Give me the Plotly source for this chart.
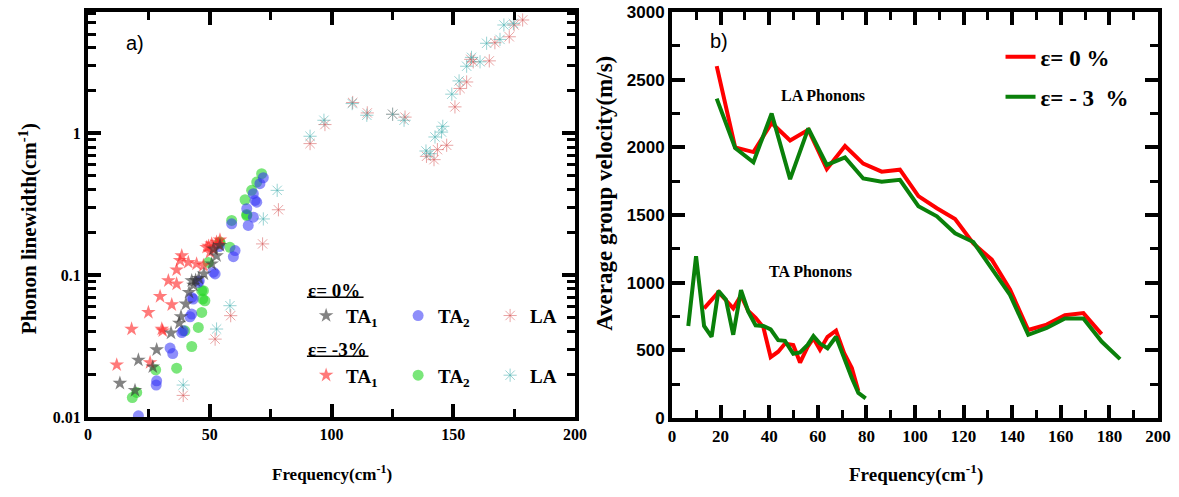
import plotly.graph_objects as go

# ---------------- Panel a) data (frequency cm^-1, linewidth cm^-1) ----------------
ta1_0_f = [13.1, 19.3, 20.7, 26.6, 28.2, 34.1, 37.5, 38.2, 40.2, 41.5, 42.6, 43.3, 44.2, 45.5, 47.6, 50.8, 51.5, 52.8, 54.2]
ta1_0_w = [0.0173, 0.0154, 0.0252, 0.0226, 0.0298, 0.0391, 0.0459, 0.0511, 0.0626, 0.0756, 0.0914, 0.085, 0.092, 0.095, 0.102, 0.120, 0.153, 0.137, 0.162]

ta2_0_f = [20.7, 28.0, 28.2, 33.7, 34.8, 38.5, 39.1, 41.9, 42.6, 43.2, 42.6, 45.3, 45.7, 51.5, 52.2, 53.9, 59.7, 60.4, 59.0, 65.2, 65.8, 67.9, 67.9, 68.6, 69.3, 70.6, 72.0]
ta2_0_w = [0.0102, 0.0168, 0.0180, 0.0306, 0.028, 0.0394, 0.0405, 0.0509, 0.0532, 0.0679, 0.0697, 0.0889, 0.0914, 0.105, 0.102, 0.159, 0.135, 0.149, 0.230, 0.294, 0.224, 0.256, 0.375, 0.336, 0.327, 0.441, 0.486]

la_0_f = [39.1, 52.2, 58.6, 71.7, 78.2, 91.2, 97.3, 108.7, 114.7, 125.1, 130.2, 139.0, 142.1, 143.5, 147.3, 150.7, 152.8, 155.5, 157.2, 158.2, 164.8, 167.1, 173.0, 175.0, 178.5]
la_0_w = [0.0142, 0.0354, 0.0518, 0.166, 0.289, 0.846, 1.152, 1.648, 1.392, 1.362, 1.30, 0.688, 0.652, 0.767, 0.823, 1.535, 2.07, 2.30, 3.32, 3.19, 3.24, 4.35, 4.79, 5.8, 6.29]

ta1_3_f = [11.8, 17.9, 24.8, 25.5, 29.6, 30.3, 30.7, 33.0, 34.4, 36.4, 36.4, 37.8, 38.5, 41.2, 44.6, 47.4, 48.7, 49.5, 50.1, 50.8, 51.5, 52.8, 53.5, 54.2]
ta1_3_w = [0.0233, 0.0417, 0.0546, 0.0242, 0.0708, 0.0417, 0.0405, 0.0914, 0.0619, 0.109, 0.0867, 0.127, 0.137, 0.123, 0.120, 0.117, 0.157, 0.160, 0.145, 0.166, 0.152, 0.171, 0.165, 0.177]

ta2_3_f = [18.2, 20.0, 27.8, 36.4, 39.8, 42.6, 45.3, 46.7, 47.4, 46.7, 47.1, 48.0, 49.4, 54.2, 54.2, 58.3, 59.0, 65.2, 65.2, 64.5, 67.2, 69.3, 71.3]
ta2_3_w = [0.0137, 0.0149, 0.0215, 0.0221, 0.0405, 0.0314, 0.0428, 0.0546, 0.0777, 0.0777, 0.0679, 0.066, 0.123, 0.171, 0.168, 0.157, 0.243, 0.263, 0.268, 0.340, 0.396, 0.453, 0.519]

la_3_f = [39.1, 52.8, 58.3, 72.0, 77.7, 91.2, 96.9, 108.5, 114.5, 125.1, 129.8, 138.8, 140.5, 142.5, 145.2, 145.7, 149.4, 152.4, 155.5, 157.5, 161.0, 163.7, 169.2, 170.8, 174.7]
la_3_w = [0.0168, 0.0417, 0.0609, 0.249, 0.396, 0.953, 1.235, 1.62, 1.34, 1.362, 1.235, 0.750, 0.718, 0.942, 1.02, 1.12, 1.887, 2.34, 2.97, 3.43, 3.19, 4.31, 4.59, 5.80, 5.96]

# ---------------- Panel b) data (frequency cm^-1, velocity m/s) ----------------
la_v0_f = [18.4, 26.0, 33.5, 41.0, 48.6, 56.1, 63.7, 71.2, 78.7, 86.3, 93.8, 101.4, 109.0, 116.5, 124.0, 131.6, 139.1, 146.6, 154.2, 161.7, 169.3, 176.8]
la_v0 = [2600, 2000, 1965, 2180, 2050, 2130, 1840, 2010, 1880, 1820, 1835, 1640, 1550, 1470, 1290, 1170, 950, 650, 690, 760, 775, 620]
la_v3_f = [18.4, 26.0, 33.5, 41.0, 48.6, 56.1, 63.7, 71.2, 78.7, 86.3, 93.8, 101.4, 109.0, 116.5, 124.0, 131.6, 139.1, 146.6, 154.2, 161.7, 169.3, 176.8, 184.4]
la_v3 = [2360, 1995, 1890, 2250, 1765, 2140, 1870, 1925, 1770, 1745, 1760, 1565, 1490, 1365, 1300, 1105, 910, 615, 665, 735, 735, 565, 435]

ta_v0_f = [13.2, 16.3, 19.1, 22.2, 25.2, 28.4, 31.4, 34.4, 37.6, 40.6, 43.7, 46.5, 49.9, 52.7, 55.8, 58.2, 60.9, 64.0, 67.5, 70.8, 74.0, 76.7]
ta_v0 = [810, 875, 930, 870, 810, 905, 790, 740, 670, 450, 490, 550, 540, 410, 525, 590, 505, 600, 645, 480, 370, 200]
ta_v3_f = [6.7, 9.9, 13.2, 16.3, 19.1, 22.2, 25.2, 28.4, 31.4, 34.4, 37.6, 40.6, 43.7, 46.5, 49.9, 52.7, 55.8, 58.2, 60.9, 64.0, 67.5, 70.8, 74.0, 76.7, 79.7]
ta_v3 = [680, 1195, 680, 600, 940, 875, 615, 945, 785, 685, 680, 655, 575, 570, 475, 485, 540, 605, 550, 515, 600, 440, 295, 185, 145]

SERIF = "Liberation Serif"
SANS = "Liberation Sans"
W, H = 1179, 497
ML, MR, MT, MB = 4, 4, 4, 4
PW, PH = W - ML - MR, H - MT - MB

def dx(p0, p1):
    return [(p0 - ML) / PW, (p1 - ML) / PW]

def dy(top, bottom):
    return [(H - MB - bottom) / PH, (H - MB - top) / PH]

fig = go.Figure()

def sc(x, y, name, sym, color, size, legend, rank, lw=0):
    m = dict(symbol=sym, color=color, size=size, line=dict(width=lw, color=color))
    fig.add_trace(go.Scatter(x=x, y=y, mode="markers", name=name, marker=m,
                             xaxis="x", yaxis="y", legend=legend, legendrank=rank))

sc(la_0_f, la_0_w, "<b>LA</b>", "asterisk-open", "rgba(215,90,90,0.55)", 11, "legend", 3, lw=1)
sc(la_3_f, la_3_w, "<b>LA</b>", "asterisk-open", "rgba(70,175,175,0.55)", 11, "legend2", 3, lw=1)
sc(ta2_3_f, ta2_3_w, "<b>TA<sub>2</sub></b>", "circle", "rgba(40,215,40,0.62)", 11, "legend2", 2)
sc(ta2_0_f, ta2_0_w, "<b>TA<sub>2</sub></b>", "circle", "rgba(50,50,245,0.55)", 11, "legend", 2)
sc(ta1_3_f, ta1_3_w, "<b>TA<sub>1</sub></b>", "star", "rgba(255,40,40,0.62)", 11, "legend2", 1)
sc(ta1_0_f, ta1_0_w, "<b>TA<sub>1</sub></b>", "star", "rgba(55,55,55,0.62)", 11, "legend", 1)

RED, GREEN = "#ff0000", "#0a800a"
fig.add_trace(go.Scatter(x=la_v0_f, y=la_v0, mode="lines", name="<b>\u03b5= 0 %</b>",
                         line=dict(color=RED, width=4), xaxis="x2", yaxis="y2",
                         legend="legend3", legendgroup="a"))
fig.add_trace(go.Scatter(x=ta_v0_f, y=ta_v0, mode="lines", showlegend=False,
                         line=dict(color=RED, width=4), xaxis="x2", yaxis="y2",
                         legend="legend3", legendgroup="a"))
fig.add_trace(go.Scatter(x=la_v3_f, y=la_v3, mode="lines", name="<b>\u03b5= - 3  %</b>",
                         line=dict(color=GREEN, width=4), xaxis="x2", yaxis="y2",
                         legend="legend3", legendgroup="b"))
fig.add_trace(go.Scatter(x=ta_v3_f, y=ta_v3, mode="lines", showlegend=False,
                         line=dict(color=GREEN, width=4), xaxis="x2", yaxis="y2",
                         legend="legend3", legendgroup="b"))

common = dict(showline=True, linewidth=4, linecolor="black", mirror="ticks",
              ticks="inside", ticklen=13, tickwidth=3.5, tickcolor="black",
              showgrid=False, zeroline=False)

def minor(**kw):
    d = dict(ticks="inside", ticklen=8, tickwidth=3, tickcolor="black", showgrid=False)
    d.update(kw)
    return d

log_minor = [m * 10.0 ** e for e in (-2, -1, 0) for m in range(2, 10) if m * 10.0 ** e < 7.1]

fig.update_layout(
    width=W, height=H, template="none",
    margin=dict(l=ML, r=MR, t=MT, b=MB),
    paper_bgcolor="white", plot_bgcolor="white",
    showlegend=True,
    xaxis=dict(domain=dx(88, 575), range=[0, 200], dtick=50, anchor="y",
               minor=minor(dtick=25),
               tickfont=dict(family=SERIF, size=16, color="black", weight="bold"), **common),
    yaxis=dict(domain=dy(12, 417), type="log", range=[-2, 0.855], dtick=1, anchor="x",
               minor=minor(tickvals=log_minor),
               tickfont=dict(family=SERIF, size=16, color="black", weight="bold"), **common),
    xaxis2=dict(domain=dx(672, 1158), range=[0, 200], dtick=20, anchor="y2",
                minor=minor(dtick=10),
                tickfont=dict(family=SERIF, size=17, color="black", weight="bold"), **common),
    yaxis2=dict(domain=dy(12, 418), range=[0, 3000], dtick=500, anchor="x2",
                minor=minor(dtick=250),
                tickfont=dict(family=SANS, size=17, color="black", weight="bold"), **common),
    legend=dict(x=0.258, y=0.452, xanchor="left", yanchor="top", orientation="h",
                bgcolor="rgba(0,0,0,0)", entrywidth=47, entrywidthmode="pixels",
                title=dict(text="<b>\u03b5= 0%</b>", side="top",
                           font=dict(family=SERIF, size=19, color="black")),
                font=dict(family=SERIF, size=19, color="black")),
    legend2=dict(x=0.258, y=0.330, xanchor="left", yanchor="top", orientation="h",
                 bgcolor="rgba(0,0,0,0)", entrywidth=47, entrywidthmode="pixels",
                 title=dict(text="<b>\u03b5= -3%</b>", side="top",
                            font=dict(family=SERIF, size=19, color="black")),
                 font=dict(family=SERIF, size=19, color="black")),
    legend3=dict(x=0.851, y=0.936, xanchor="left", yanchor="top", orientation="v",
                 bgcolor="rgba(0,0,0,0)", tracegroupgap=7,
                 font=dict(family=SERIF, size=23, color="black")),
)

def ann(text, x, y, size, family=SERIF, bold=True, angle=0):
    fig.add_annotation(text=("<b>%s</b>" % text) if bold else text,
                       x=x / W, y=1 - y / H, xref="paper", yref="paper",
                       xanchor="center", yanchor="middle", showarrow=False, textangle=angle,
                       font=dict(family=family, size=size, color="black"))

ann("a)", 132, 40, 20, family=SANS, bold=False)
ann("b)", 720, 38, 20, family=SANS, bold=False)
ann("LA Phonons", 825, 93, 16)
ann("TA Phonons", 812, 272, 16)
ann("Frequency(cm<sup>-1</sup>)", 330, 477, 17)
ann("Frequency(cm<sup>-1</sup>)", 918, 477, 19)
ann("Phonon linewidth(cm<sup>-1</sup>)", 24, 228, 21, angle=-90)
ann("Average group velocity(m/s)", 605, 192, 23, angle=-90)

# underline of the two legend group titles in panel a)
for (x0, x1, y) in [(305, 362, 298), (305, 367, 358)]:
    fig.add_shape(type="line", xref="paper", yref="paper",
                  x0=x0 / W, x1=x1 / W, y0=1 - y / H, y1=1 - y / H,
                  line=dict(color="black", width=1.5))

fig.write_html("out.html")
